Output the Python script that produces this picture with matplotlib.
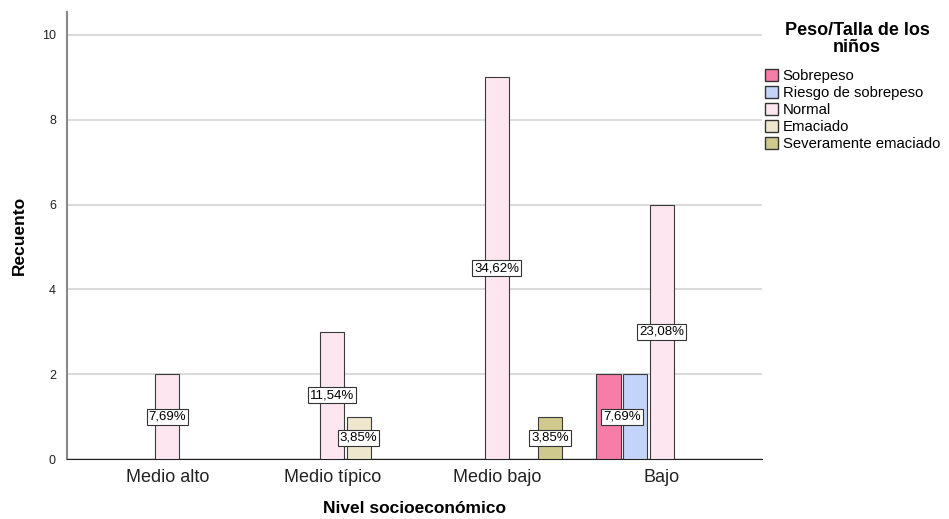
import numpy as np
import matplotlib.pyplot as plt
from matplotlib.patches import Patch

plt.rcParams['font.family'] = ['Liberation Sans', 'DejaVu Sans']

categorias = ['Medio alto', 'Medio típico', 'Medio bajo', 'Bajo']
series = ['Sobrepeso', 'Riesgo de sobrepeso', 'Normal', 'Emaciado', 'Severamente emaciado']
colores = ['#F67DA8', '#C4D3F9', '#FEE6F1', '#EEE7CE', '#CFC98E']

sobrepeso = [0, 0, 0, 2]
riesgo = [0, 0, 0, 2]
normal = [2, 3, 9, 6]
emaciado = [0, 1, 0, 0]
severo = [0, 0, 1, 0]
valores = [sobrepeso, riesgo, normal, emaciado, severo]

# etiquetas de porcentaje: (serie, categoria, texto)
etiquetas = [
    (2, 0, '7,69%'),
    (2, 1, '11,54%'),
    (3, 1, '3,85%'),
    (2, 2, '34,62%'),
    (4, 2, '3,85%'),
    (2, 3, '23,08%'),
    ((0, 1), 3, '7,69%'),
]

fig = plt.figure(figsize=(9.49, 5.19), dpi=100)
ax = fig.add_axes([67/949, 1-459/519, 695/949, 447/519])

x = np.arange(len(categorias))
paso = 0.161
ancho = 0.146
for i, vals in enumerate(valores):
    for j, v in enumerate(vals):
        if v > 0:
            ax.bar(x[j] + (i-2)*paso, v, width=ancho, color=colores[i],
                   edgecolor='#3a3a3a', linewidth=0.8, zorder=3)

for s, c, txt in etiquetas:
    if isinstance(s, tuple):
        xs = np.mean([x[c] + (k-2)*paso for k in s])
        h = valores[s[0]][c]
    else:
        xs = x[c] + (s-2)*paso
        h = valores[s][c]
    ax.text(xs, h/2, txt, ha='center', va='center', fontsize=9.5, zorder=5,
            bbox=dict(boxstyle='square,pad=0.15', fc='white', ec='#333333', lw=0.8))

ax.set_xlim(-0.61, 3.61)
ax.set_ylim(0, 10.54)
ax.set_yticks([0, 2, 4, 6, 8, 10])
ax.set_xticks(x)
ax.set_xticklabels(categorias, fontsize=13, color='#222222')
ax.tick_params(axis='y', labelsize=9, length=0, pad=8, colors='#222222')
ax.tick_params(axis='x', length=0, pad=7)
ax.yaxis.grid(True, color='#d4d4d4', linewidth=1.2, zorder=0)
ax.spines['top'].set_visible(False)
ax.spines['right'].set_visible(False)
ax.spines['left'].set_color('#888888')
ax.spines['left'].set_linewidth(1.5)
ax.spines['bottom'].set_color('#222222')
ax.set_ylabel('Recuento', fontsize=12.5, fontweight='bold', labelpad=11)
ax.set_xlabel('Nivel socioeconómico', fontsize=12.5, fontweight='bold', labelpad=11)

# titulo de la leyenda aparte
fig.text(857/949, 1-39/519, 'Peso/Talla de los\nniños', ha='center', va='center',
         fontsize=13, fontweight='bold', linespacing=0.95)

handles = [Patch(facecolor=colores[i], edgecolor='#333333', label=series[i]) for i in range(len(series))]
leg = fig.legend(handles=handles, loc='upper left',
                 bbox_to_anchor=(762/949, 1-66/519), frameon=False, fontsize=10.7,
                 handlelength=0.9, handleheight=0.9, handletextpad=0.3,
                 labelspacing=0.18, borderaxespad=0, borderpad=0.2)

fig.savefig('out.png', dpi=100)
